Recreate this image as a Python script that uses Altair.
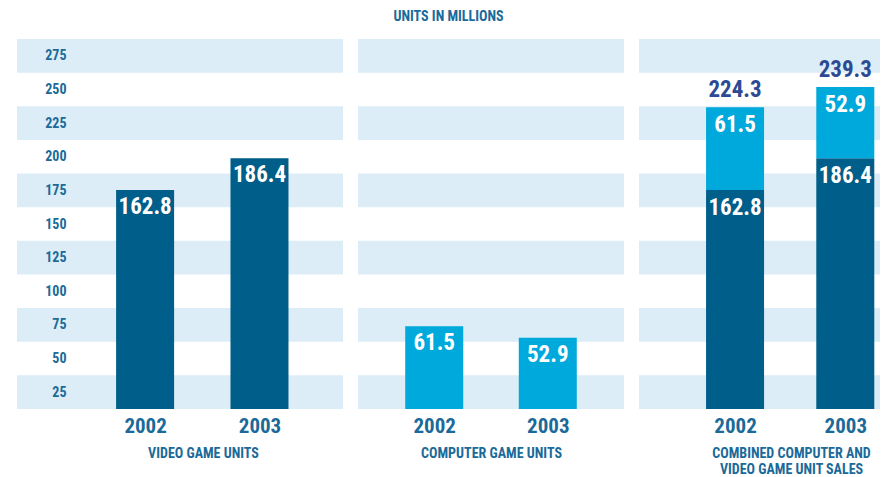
import altair as alt
import pandas as pd

# ---- data ----
years = [2002, 2003]
video_units = [162.8, 186.4]
computer_units = [61.5, 52.9]
tick_labels = ["25", "50", "75", "100", "125", "150", "175", "200", "225", "250", "275"]
band_starts = [0, 50, 100, 150, 200, 250]
band_size = 25
panel_titles = ["VIDEO GAME UNITS", "COMPUTER GAME UNITS",
                ["COMBINED COMPUTER AND", "VIDEO GAME UNIT SALES"]]

# ---- styling ----
DARK = "#005E8A"
LIGHT = "#00A9DB"
BAND = "#DCEDF7"
TEXT = "#1B6A99"
TOTAL = "#2C4A94"
FONT = "Roboto Condensed"
Y_DOMAIN = [0, 275]
H = 370
BAR = 58

bands_df = pd.DataFrame({"lo": band_starts, "hi": [b + band_size for b in band_starts]})


def y_axis(show):
    if not show:
        return None
    return alt.Axis(values=[int(t) - band_size / 2 for t in tick_labels],
                    labelExpr="datum.value + 12.5", title=None, domain=False,
                    ticks=False, grid=False, labelPadding=-49, labelAlign="right",
                    labelBaseline="middle", labelFont=FONT, labelFontSize=14,
                    labelFontWeight="bold", labelColor=TEXT, zindex=1)


def x_enc(domain, title, title_x):
    return alt.X("year:Q", scale=alt.Scale(domain=domain, nice=False, zero=False),
                 axis=alt.Axis(values=years, format="d", title=title, titleX=title_x,
                               titleY=37, titleBaseline="top", titleLineHeight=16,
                               titleFont=FONT, titleFontSize=14, titleFontWeight="bold",
                               titleColor=TEXT, labelFont=FONT, labelFontSize=21,
                               labelFontWeight="bold", labelColor=TEXT, labelPadding=6,
                               domain=False, ticks=False, grid=False))


def bands(show_axis):
    return alt.Chart(bands_df).mark_rect(color=BAND).encode(
        x=alt.value(0), x2=alt.value("width"),
        y=alt.Y("lo:Q", scale=alt.Scale(domain=Y_DOMAIN, nice=False), axis=y_axis(show_axis)),
        y2="hi:Q")


def simple_panel(values, color, width, domain, title, title_x, show_axis):
    df = pd.DataFrame({"year": years, "value": values})
    x = x_enc(domain, title, title_x)
    y = alt.Y("value:Q", scale=alt.Scale(domain=Y_DOMAIN, nice=False), axis=y_axis(show_axis))
    bars = alt.Chart(df).mark_bar(size=BAR, color=color).encode(x=x, y=y)
    labels = alt.Chart(df).mark_text(baseline="top", dy=6, color="white", font=FONT,
                                     fontSize=23, fontWeight="bold").encode(
        x=x, y=y, text=alt.Text("value:Q", format=".1f"))
    return alt.layer(bands(show_axis), bars, labels).properties(width=width, height=H)


p1 = simple_panel(video_units, DARK, 326, [2000.92373, 2003.68644], panel_titles[0], 186, True)
p2 = simple_panel(computer_units, LIGHT, 266, [2001.37288, 2003.62712], panel_titles[1], 133, False)

# combined stacked panel
rows = []
for yr, v, c in zip(years, video_units, computer_units):
    rows.append({"year": yr, "seg": "video", "lo": 0, "hi": v, "value": v})
    rows.append({"year": yr, "seg": "computer", "lo": v, "hi": v + c, "value": c})
stack_df = pd.DataFrame(rows)
tot_df = pd.DataFrame({"year": years, "total": [v + c for v, c in zip(video_units, computer_units)]})

x3 = x_enc([2001.17391, 2003.26956], panel_titles[2], 152)
ysc = alt.Scale(domain=Y_DOMAIN, nice=False)
bars3 = alt.Chart(stack_df).mark_bar(size=BAR).encode(
    x=x3, y=alt.Y("hi:Q", scale=ysc, axis=None), y2="lo:Q",
    color=alt.Color("seg:N", scale=alt.Scale(domain=["video", "computer"], range=[DARK, LIGHT]),
                    legend=None))
labels3 = alt.Chart(stack_df).mark_text(baseline="top", dy=7, color="white", font=FONT,
                                        fontSize=23, fontWeight="bold").encode(
    x=x3, y=alt.Y("hi:Q", scale=ysc, axis=None), text=alt.Text("value:Q", format=".1f"))
totals3 = alt.Chart(tot_df).mark_text(baseline="alphabetic", dy=-10, color=TOTAL, font=FONT,
                                      fontSize=23, fontWeight="bold").encode(
    x=x3, y=alt.Y("total:Q", scale=ysc, axis=None), text=alt.Text("total:Q", format=".1f"))
p3 = alt.layer(bands(False), bars3, labels3, totals3).properties(width=241, height=H)

chart = alt.hconcat(p1, p2, p3, spacing=15).properties(
    title=alt.TitleParams("UNITS IN MILLIONS", font=FONT, fontSize=14, fontWeight="bold",
                          color=TEXT, anchor="middle", offset=15)
).configure(padding={"left": 9, "top": 2, "right": 0, "bottom": 0}
).configure_view(strokeWidth=0)

chart.save("out.html", embed_options={"renderer": "svg", "actions": False})
